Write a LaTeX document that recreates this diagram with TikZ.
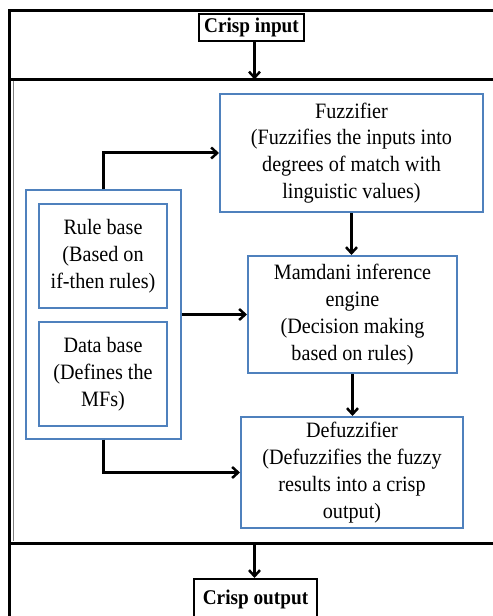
\documentclass[tikz,border=0pt]{standalone}
\usepackage{fontspec}
\setmainfont[FakeStretch=0.92]{Liberation Serif}
\usetikzlibrary{arrows.meta}
\definecolor{boxblue}{RGB}{79,129,189}
\begin{document}
\begin{tikzpicture}
  [x=1bp,y=-1bp,
   every node/.style={align=center,inner sep=0pt,font=\fontsize{22}{27}\selectfont},
   blk/.style={draw=boxblue,line width=2bp,fill=white},
   crisp/.style={draw=black,line width=2bp,fill=white,font=\fontsize{21}{24}\selectfont\bfseries},
   frame/.style={line width=3bp},
   arr/.style={line width=3bp,-{Straight Barb[length=6bp,width=11bp,line width=2.5bp]}}]

  \useasboundingbox (0,0) rectangle (493,616);

  % outer frame
  \draw [frame] (493,10.5) -- (9.5,10.5) -- (9.5,620);
  \draw [frame] (9.5,79.5) -- (493,79.5);
  \draw [frame] (9.5,543) -- (493,543);
  \draw [gray,line width=1.5bp] (13.5,81) -- (13.5,541);

  \node [crisp,minimum width=105bp,minimum height=27bp] (ci) at (251.5,27.5) {Crisp input};
  \node [crisp,minimum width=123bp,minimum height=40bp] (co) at (255.5,599) {Crisp output};

  \node [blk,minimum width=263bp,minimum height=118bp] (fz) at (351.5,153) {Fuzzifier\\(Fuzzifies the inputs into\\degrees of match with\\linguistic values)};
  \node [blk,minimum width=209bp,minimum height=117bp] (mi) at (352.5,314.5) {Mamdani inference\\engine\\(Decision making\\based on rules)};
  \node [blk,minimum width=222bp,minimum height=111bp] (df) at (352,472.5) {Defuzzifier\\(Defuzzifies the fuzzy\\results into a crisp\\output)};

  \node [blk,minimum width=155bp,minimum height=248bp] (kb) at (103.5,314.5) {};
  \node [blk,minimum width=128bp,minimum height=104bp] (rb) at (103,256) {Rule base\\(Based on\\if-then rules)};
  \node [blk,minimum width=128bp,minimum height=104bp] (db) at (103,374) {Data base\\(Defines the\\MFs)};

  \coordinate (top) at (254.5,79.5);
  \coordinate (bot) at (254.5,543);

  \draw [arr] (ci.south -| top) -- (top);
  \draw [arr] (bot) -- (co.north -| bot);
  \draw [arr] (kb.north) |- (fz.west);
  \draw [arr] (kb.east) -- (kb.east -| mi.west);
  \draw [arr] (kb.south) |- (df.west);
  \draw [arr] (fz.south) -- (fz.south |- mi.north);
  \draw [arr] (mi.south) -- (mi.south |- df.north);
\end{tikzpicture}
\end{document}
